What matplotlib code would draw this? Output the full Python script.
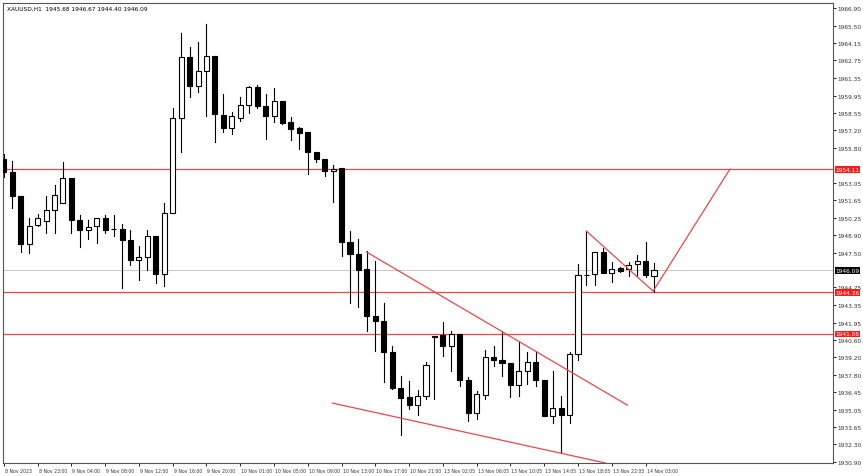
import matplotlib.pyplot as plt
from matplotlib.patches import Rectangle
from matplotlib.transforms import ScaledTranslation

# OHLC for XAUUSD H1
opens = [1954.92, 1953.89, 1951.99, 1948.18, 1949.69, 1950.01, 1950.88, 1951.43, 1953.42, 1950.08,
         1949.29, 1949.61, 1950.24, 1949.40, 1949.37, 1948.50, 1946.91, 1947.15, 1948.82, 1945.80,
         1950.64, 1958.17, 1963.01, 1960.71, 1961.90, 1963.09, 1958.41, 1957.38, 1958.17, 1959.20,
         1960.63, 1959.13, 1958.33, 1959.52, 1957.86, 1957.38, 1957.06, 1955.48, 1954.92, 1953.97,
         1954.21, 1948.34, 1947.39, 1946.20, 1942.47, 1942.08, 1939.62, 1936.76, 1936.05, 1935.41,
         1936.13, 1940.89, 1940.97, 1940.09, 1941.04, 1937.40, 1934.78, 1936.21, 1939.22, 1938.98,
         1938.74, 1937.00, 1938.11, 1938.82, 1937.40, 1934.54, 1935.17, 1934.62, 1939.46, 1945.72,
         1945.80, 1947.55, 1945.88, 1946.28, 1946.20, 1946.59, 1946.83, 1945.68]
highs = [1955.32, 1954.76, 1951.99, 1950.24, 1950.56, 1951.99, 1952.86, 1954.68, 1953.42, 1950.48,
         1950.08, 1950.24, 1950.48, 1950.48, 1949.77, 1949.29, 1948.02, 1949.29, 1948.82, 1951.43,
         1958.97, 1964.91, 1963.80, 1964.20, 1965.63, 1963.09, 1960.08, 1958.65, 1959.84, 1960.71,
         1960.79, 1960.08, 1960.55, 1959.52, 1958.25, 1957.46, 1957.06, 1955.48, 1954.92, 1954.45,
         1954.21, 1949.21, 1948.58, 1947.63, 1946.83, 1943.50, 1940.09, 1937.71, 1937.32, 1936.60,
         1938.82, 1940.89, 1942.00, 1941.28, 1941.04, 1937.64, 1936.52, 1939.78, 1940.09, 1941.20,
         1938.74, 1940.41, 1939.62, 1939.62, 1937.40, 1938.11, 1936.13, 1939.62, 1946.60, 1949.21,
         1947.55, 1947.86, 1946.75, 1946.36, 1946.75, 1947.31, 1948.34, 1946.67]
lows = [1953.50, 1951.04, 1947.55, 1947.47, 1949.61, 1949.05, 1949.05, 1951.43, 1949.05, 1947.94,
        1948.58, 1948.26, 1949.05, 1948.82, 1944.69, 1946.51, 1945.33, 1946.12, 1945.09, 1944.85,
        1950.64, 1955.48, 1959.84, 1960.24, 1958.33, 1956.27, 1957.06, 1956.90, 1957.94, 1958.57,
        1958.97, 1956.51, 1957.86, 1957.70, 1956.43, 1955.71, 1953.73, 1954.68, 1953.57, 1951.51,
        1947.23, 1943.50, 1943.19, 1941.28, 1939.70, 1937.24, 1936.68, 1933.03, 1935.10, 1934.62,
        1935.89, 1935.89, 1939.30, 1938.11, 1936.92, 1934.15, 1934.30, 1935.89, 1938.51, 1937.71,
        1936.05, 1936.13, 1937.08, 1936.92, 1934.54, 1933.99, 1931.69, 1933.99, 1938.98, 1944.93,
        1944.93, 1945.88, 1945.17, 1945.96, 1945.64, 1945.64, 1945.56, 1944.40]
closes = [1953.89, 1951.99, 1948.18, 1949.61, 1950.24, 1950.88, 1952.07, 1953.42, 1950.08, 1949.29,
          1949.53, 1950.24, 1949.29, 1949.37, 1948.50, 1946.91, 1947.15, 1948.82, 1945.80, 1950.64,
          1958.17, 1963.01, 1960.71, 1961.90, 1963.09, 1958.49, 1957.38, 1958.33, 1959.20, 1960.63,
          1959.13, 1958.33, 1959.52, 1957.78, 1957.30, 1956.98, 1955.48, 1954.92, 1953.97, 1954.13,
          1948.34, 1947.39, 1946.12, 1942.47, 1942.08, 1939.62, 1936.76, 1935.97, 1935.41, 1936.13,
          1938.59, 1940.85, 1940.09, 1941.04, 1937.40, 1934.78, 1936.29, 1939.22, 1938.98, 1938.74,
          1937.00, 1938.11, 1938.82, 1937.40, 1934.54, 1935.17, 1934.62, 1939.46, 1945.72, 1945.70,
          1947.55, 1945.88, 1946.20, 1946.04, 1946.51, 1946.83, 1945.72, 1946.09]

x_labels = ["8 Nov 2023", "8 Nov 23:00", "9 Nov 04:00", "9 Nov 08:00", "9 Nov 12:00",
            "9 Nov 16:00", "9 Nov 20:00", "10 Nov 01:00", "10 Nov 05:00", "10 Nov 09:00",
            "10 Nov 13:00", "10 Nov 17:00", "10 Nov 21:00", "13 Nov 02:05", "13 Nov 06:05",
            "13 Nov 10:05", "13 Nov 14:05", "13 Nov 18:05", "13 Nov 22:05", "14 Nov 03:00"]
y_ticks = [1966.90, 1965.50, 1964.15, 1962.75, 1961.35, 1959.95, 1958.55, 1957.20, 1955.80,
           1953.05, 1951.65, 1950.25, 1948.90, 1947.50, 1944.75, 1943.35, 1941.95,
           1940.60, 1939.20, 1937.80, 1936.45, 1935.05, 1933.65, 1932.30, 1930.90]

levels = [1954.11, 1944.36, 1941.06]
last_price = 1946.09

# drawn trendlines (bar index, price)
line_a = ([42.96, 73.85], [1947.55, 1935.41])
line_b = ([38.93, 71.24], [1935.57, 1930.82])
line_c = ([69.0, 76.9, 86.0], [1949.21, 1944.45, 1954.13])

fig = plt.figure(figsize=(8.63, 4.77), dpi=100)
ax = fig.add_axes([3 / 863, 13 / 477, 830 / 863, 460 / 477])

for i, (o, h, l, c) in enumerate(zip(opens, highs, lows, closes)):
    ax.plot([i, i], [l, h], color='black', lw=0.8, zorder=2)
    bottom = min(o, c)
    height = max(abs(c - o), 0.03)
    face = 'white' if c >= o else 'black'
    ax.add_patch(Rectangle((i - 0.3, bottom), 0.6, height, facecolor=face,
                           edgecolor='black', lw=0.8, zorder=3))

for lv in levels:
    ax.axhline(lv, color='#e8474c', lw=0.9, zorder=1)
    ax.text(1.003, lv, f"{lv:.2f}", transform=ax.get_yaxis_transform(), fontsize=4.2,
            color='white', va='center', ha='left',
            bbox=dict(boxstyle='square,pad=0.15', fc='#ff1a1a', ec='none'), clip_on=False)
ax.axhline(last_price, color='#c8c8c8', lw=0.7, zorder=1)
ax.text(1.003, last_price, f"{last_price:.2f}", transform=ax.get_yaxis_transform(), fontsize=4.2,
        color='white', va='center', ha='left',
        bbox=dict(boxstyle='square,pad=0.15', fc='black', ec='none'), clip_on=False)

for xs, ys in (line_a, line_b, line_c):
    ax.plot(xs, ys, color='#e8474c', lw=0.9, zorder=4)

ax.set_xlim(-0.1, 98.2)
ax.set_ylim(1930.82, 1967.3)
ax.yaxis.tick_right()
ax.set_yticks(y_ticks)
ax.set_yticklabels([f"{v:.2f}" for v in y_ticks], fontsize=4.2, color='#333333')
ax.set_xticks(range(0, 4 * len(x_labels), 4))
ax.set_xticklabels(x_labels, fontsize=3.3, color='#333333', ha='left')
ax.tick_params(axis='both', length=2, width=0.6, pad=1.5)
shift = ScaledTranslation(1.0 / 100, 0, fig.dpi_scale_trans)
for lab in ax.get_xticklabels():
    lab.set_transform(lab.get_transform() + shift)
for s in ax.spines.values():
    s.set_linewidth(0.8)
    s.set_color('#555555')

ax.text(0.005, 0.993, "XAUUSD,H1  1945.68 1946.67 1944.40 1946.09", transform=ax.transAxes,
        fontsize=4.2, va='top', ha='left')

fig.savefig('out.png', dpi=100)
